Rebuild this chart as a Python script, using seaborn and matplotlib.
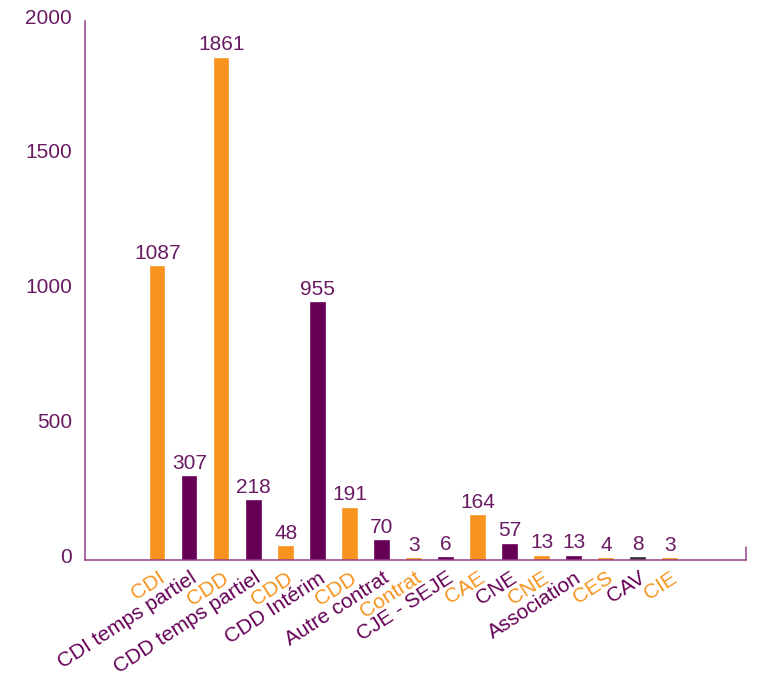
import pandas as pd
import matplotlib
matplotlib.use('Agg')
import matplotlib.pyplot as plt
import matplotlib.transforms as mtransforms
import seaborn as sns

sns.set_style("white")
plt.rcParams['font.family'] = ['Liberation Sans', 'DejaVu Sans']

categories = ['CDI', 'CDI temps partiel', 'CDD', 'CDD temps partiel', 'CDD',
              'CDD Intérim', 'CDD', 'Autre contrat', 'Contrat', 'CJE - SEJE',
              'CAE', 'CNE', 'CNE', 'Association', 'CES', 'CAV', 'CIE']
values = [1087, 307, 1861, 218, 48, 955, 191, 70, 3, 6, 164, 57, 13, 13, 4, 8, 3]

ORANGE = '#F7931E'
PURPLE = '#660057'
DARK = '#333333'
TEXT = '#6A1A63'
AXIS = '#93408B'

bar_colors = [ORANGE if i % 2 == 0 else PURPLE for i in range(len(values))]
bar_colors[15] = DARK  # la barre CAV est presque noire
label_colors = [ORANGE if i % 2 == 0 else PURPLE for i in range(len(values))]

df = pd.DataFrame({'pos': [str(i) for i in range(len(values))], 'value': values})

fig = plt.figure(figsize=(7.63, 6.77), dpi=100)
ax = fig.add_axes([0.111, 0.1728, 0.867, 0.796])

sns.barplot(data=df, x='pos', y='value', hue='pos', palette=bar_colors,
            legend=False, width=0.42, saturation=1, ax=ax)
for patch, col in zip(ax.patches, bar_colors):
    patch.set_edgecolor(col)
    patch.set_linewidth(1.2)

for c in ax.containers:
    ax.bar_label(c, fmt='%d', padding=3, color=TEXT, fontsize=15)

ax.set_xlim(-2.28, 18.375)
ax.set_ylim(0, 2000)
ax.set_yticks([0, 500, 1000, 1500, 2000])
ax.set_xticks(range(len(categories)))
ax.set_xticklabels(categories, rotation=33, ha='right', va='top',
                   rotation_mode='anchor', fontsize=15)
for lbl, col in zip(ax.get_xticklabels(), label_colors):
    lbl.set_color(col)

ax.tick_params(axis='x', length=0, pad=6)
ax.tick_params(axis='y', direction='in', length=11, width=1.1, color=AXIS,
               labelcolor=TEXT, labelsize=15, pad=9)
# les etiquettes de l'axe y sont un peu au-dessus des graduations
up = mtransforms.ScaledTranslation(0, 5 / 100, fig.dpi_scale_trans)
for lbl in ax.get_yticklabels():
    lbl.set_transform(lbl.get_transform() + up)
ax.set_xlabel('')
ax.set_ylabel('')

for s in ['top', 'right']:
    ax.spines[s].set_visible(False)
for s in ['left', 'bottom']:
    ax.spines[s].set_color(AXIS)
    ax.spines[s].set_linewidth(1.1)

# petite graduation au bout droit de l'axe x
ax.plot([1, 1], [0, 0.025], transform=ax.transAxes, color=AXIS, lw=1.1, clip_on=False)

plt.savefig('out.png', dpi=100)
plt.close()
